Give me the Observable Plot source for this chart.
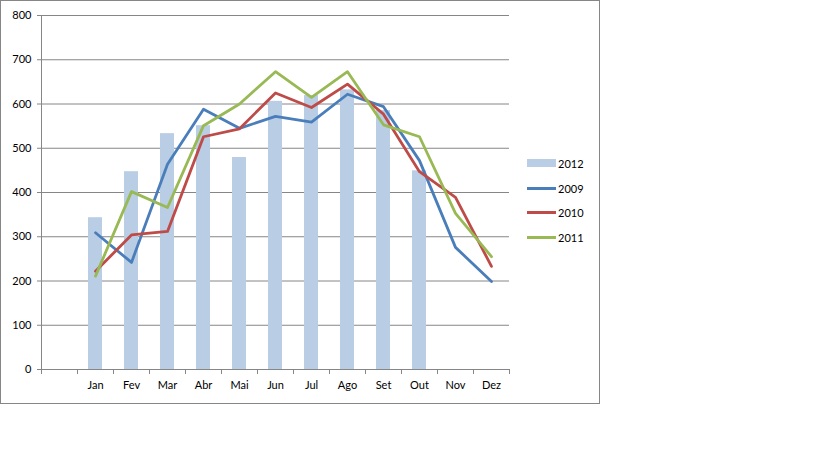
<!DOCTYPE html>
<html>
<head>
<meta charset="utf-8">
<script src="https://cdn.jsdelivr.net/npm/d3@7"></script>
<script src="https://cdn.jsdelivr.net/npm/@observablehq/plot@0.6"></script>
<style>
  body { margin: 0; background: #fff; font-family: Lato, "Open Sans", sans-serif; }
  #box { position: absolute; left: 0; top: 0; width: 600px; height: 404px; box-sizing: border-box; border: 1px solid #868686; }
  #chart { position: absolute; left: 0; top: 0; }
  #legend { position: absolute; left: 527px; top: 151px; font-size: 11px; color: #000; }
  .row { height: 24.7px; display: flex; align-items: center; }
  .sw { width: 29px; margin-right: 2px; }
</style>
</head>
<body>
<div id="box"></div>
<div id="chart"></div>
<div id="legend"></div>
<script>
const months = ["Jan","Fev","Mar","Abr","Mai","Jun","Jul","Ago","Set","Out","Nov","Dez"];
const v2012 = [343,447,533,551,479,606,619,632,585,449];
const v2009 = [309,242,464,588,545,572,559,622,594,472,276,199];
const v2010 = [222,304,312,526,544,625,592,645,577,447,389,233];
const v2011 = [211,402,366,551,600,673,615,673,553,526,353,255];
const yTicks = [0,100,200,300,400,500,600,700,800];
const lineSeries = ["2009","2010","2011"];
const lineColors = ["#4A7EBB","#BE4B48","#98B954"];
const barColor = "#B9CDE5";
const gridColor = "#868686";

const xDomain = ["", ...months];
const bars = v2012.map((v, i) => ({month: months[i], value: v}));
const lineValues = [v2009, v2010, v2011];
const lines = lineSeries.flatMap((s, k) => lineValues[k].map((v, i) => ({series: s, month: months[i], value: v})));

const chart = Plot.plot({
  width: 600,
  height: 404,
  marginLeft: 41,
  marginRight: 91,
  marginTop: 15,
  marginBottom: 35,
  style: {fontFamily: "Lato, 'Open Sans', sans-serif", fontSize: "11px", color: "#000", background: "transparent"},
  x: {domain: xDomain, padding: 0, label: null},
  y: {domain: [0, 800], label: null},
  color: {domain: lineSeries, range: lineColors},
  marks: [
    Plot.gridY(yTicks, {stroke: gridColor, strokeOpacity: 1}),
    Plot.barY(bars, {x: "month", y: "value", fill: barColor, insetLeft: 11, insetRight: 11}),
    Plot.line(lines, {x: "month", y: "value", z: "series", stroke: "series", strokeWidth: 2.8, strokeLinejoin: "round"}),
    Plot.ruleX([""], {dx: -18, stroke: gridColor, insetBottom: -5}),
    Plot.ruleX(xDomain, {x: d => d, y1: 0, y2: 0, dx: -18, insetBottom: -5, stroke: gridColor}),
    Plot.ruleX([months[months.length - 1]], {x: d => d, y1: 0, y2: 0, dx: 18, insetBottom: -5, stroke: gridColor}),
    Plot.ruleY([0], {stroke: gridColor}),
    Plot.axisY(yTicks, {tickSize: 4, tickPadding: 6, stroke: gridColor, fill: "#000"}),
    Plot.axisX({tickSize: 0, tickPadding: 12, tickFormat: d => d, fill: "#000"})
  ]
});
document.getElementById("chart").appendChild(chart);

const legendItems = [
  {label: "2012", color: barColor, h: 8},
  ...lineSeries.map((s, k) => ({label: s, color: lineColors[k], h: 3}))
];
const legend = document.getElementById("legend");
for (const it of legendItems) {
  const row = document.createElement("div");
  row.className = "row";
  const sw = document.createElement("div");
  sw.className = "sw";
  sw.style.height = it.h + "px";
  sw.style.background = it.color;
  const t = document.createElement("span");
  t.textContent = it.label;
  row.appendChild(sw);
  row.appendChild(t);
  legend.appendChild(row);
}
</script>
</body>
</html>
